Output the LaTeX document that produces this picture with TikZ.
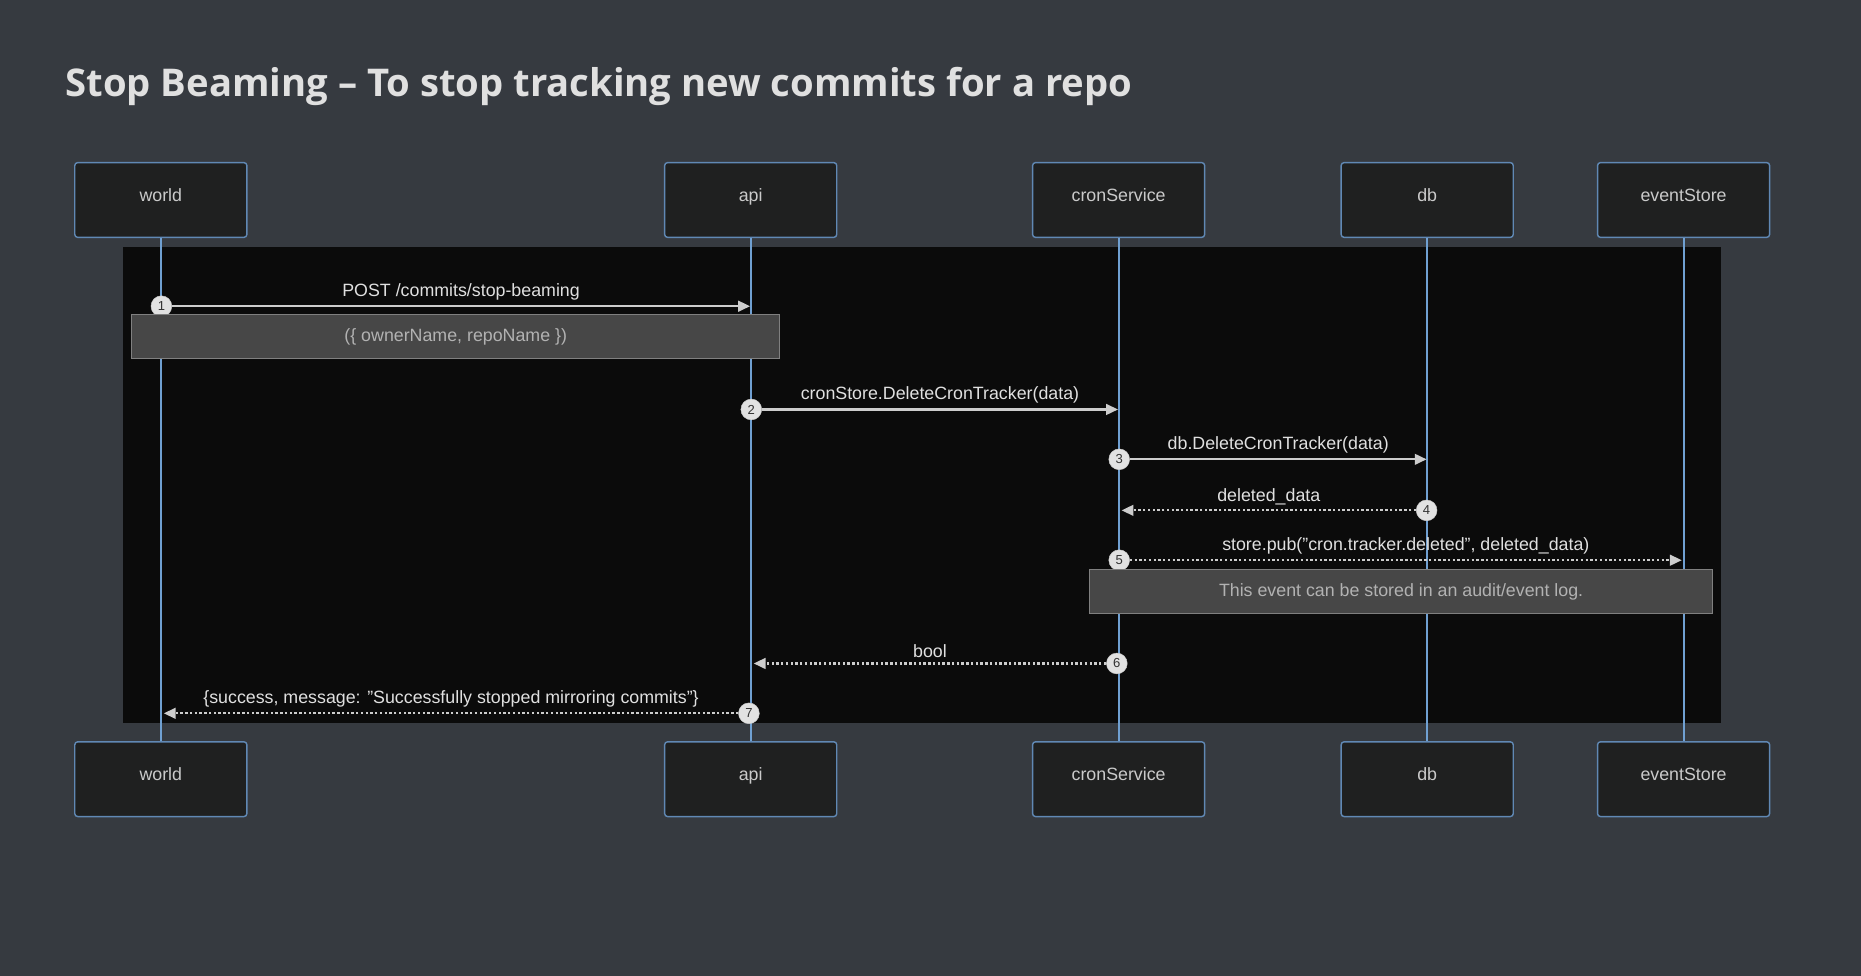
\documentclass[tikz,border=0pt]{standalone}
\usepackage{fontspec}
\setmainfont{Liberation Sans}
\newfontfamily\titlefont{Open Sans}
\usetikzlibrary{arrows.meta,positioning}
\definecolor{pagebg}{RGB}{54,58,64}
\definecolor{panelbg}{RGB}{11,11,11}
\definecolor{actorfill}{RGB}{31,32,32}
\definecolor{actorline}{RGB}{96,136,180}
\definecolor{lifeblue}{RGB}{112,160,210}
\definecolor{msgline}{RGB}{205,205,205}
\definecolor{labeltext}{RGB}{224,224,224}
\definecolor{notefill}{RGB}{71,71,71}
\definecolor{notetext}{RGB}{178,178,178}
\definecolor{dotfill}{RGB}{226,226,226}
\tikzset{
	actorbox/.style={draw=actorline, fill=actorfill, rounded corners=2.5pt, line width=1.2pt,
		minimum width=145pt, minimum height=63pt, text=labeltext!90!black,
		font=\fontsize{15}{18}\selectfont, text height=11pt, text depth=8pt},
	lifeline/.style={draw=lifeblue, line width=1.6pt},
	msg/.style={draw=msgline, line width=1.8pt, -{Triangle[length=10pt,width=9pt]}},
	reply/.style={msg, dash pattern=on 2pt off 2pt},
	msglabel/.style={text=labeltext, font=\fontsize{15}{18}\selectfont, inner sep=0pt, above=4pt},
	stepdot/.style={circle, fill=dotfill, draw=msgline, inner sep=0pt, minimum size=17.5pt,
		text=black!80, font=\fontsize{11}{12}\selectfont},
	notebox/.style={fill=notefill, draw=black!50, line width=0.6pt, minimum height=37pt,
		text=notetext, font=\fontsize{15}{18}\selectfont}
}
\newcommand{\qt}{\char"22\relax}
\begin{document}
\begin{tikzpicture}[x=1pt, y=-1pt]
		\fill[pagebg] (0,0) rectangle (1568,822);
		\useasboundingbox (0,0) rectangle (1568,822);
		\node[anchor=base west, inner sep=0pt, text=labeltext, font=\titlefont\bfseries\fontsize{32.2}{38}\selectfont] (title) at (55,81) {Stop Beaming – To stop tracking new commits for a repo};
		\fill[panelbg] (104,208) rectangle (1450,609);

		\node[actorbox] (world-top) at (135.5,168.5) {world};
		\node[actorbox] (api-top) at (632.5,168.5) {api};
		\node[actorbox] (cron-top) at (942.5,168.5) {cronService};
		\node[actorbox] (db-top) at (1202.5,168.5) {db};
		\node[actorbox] (store-top) at (1418.5,168.5) {eventStore};
		\node[actorbox] (world-bot) at (135.5,656.5) {world};
		\node[actorbox] (api-bot) at (632.5,656.5) {api};
		\node[actorbox] (cron-bot) at (942.5,656.5) {cronService};
		\node[actorbox] (db-bot) at (1202.5,656.5) {db};
		\node[actorbox] (store-bot) at (1418.5,656.5) {eventStore};

		\draw[lifeline] (world-top) -- (world-bot);
		\draw[lifeline] (api-top) -- (api-bot);
		\draw[lifeline] (cron-top) -- (cron-bot);
		\draw[lifeline] (db-top) -- (db-bot);
		\draw[lifeline] (store-top) -- (store-bot);

		\node[stepdot] (n1) at (136,258) {1};
		\coordinate (t1) at (632,258);
		\draw[msg] (n1) -- (t1) node[midway, msglabel] {POST /commits/stop-beaming};
		\node[notebox, minimum width=546pt] (note1) at (384,283.5) {(\{ ownerName, repoName \})};

		\node[stepdot] (n2) at (633,345) {2};
		\coordinate (t2) at (942,345);
		\draw[msg] (n2) -- (t2) node[midway, msglabel] {cronStore.DeleteCronTracker(data)};

		\node[stepdot] (n3) at (943,387) {3};
		\coordinate (t3) at (1202,387);
		\draw[msg] (n3) -- (t3) node[midway, msglabel] {db.DeleteCronTracker(data)};

		\node[stepdot] (n4) at (1202,430) {4};
		\coordinate (t4) at (945,430);
		\draw[reply] (n4) -- (t4) node[midway, msglabel] {deleted\_data};

		\node[stepdot] (n5) at (943,472) {5};
		\coordinate (t5) at (1417,472);
		\draw[reply] (n5) -- (t5) node[midway, msglabel] {store.pub(\qt cron.tracker.deleted\qt, deleted\_data)};
		\node[notebox, minimum width=525pt] (note2) at (1180.5,498.5) {This event can be stored in an audit/event log.};

		\node[stepdot] (n6) at (941,559) {6};
		\coordinate (t6) at (635,559);
		\draw[reply] (n6) -- (t6) node[midway, msglabel] {bool};

		\node[stepdot] (n7) at (631,601) {7};
		\coordinate (t7) at (138,601);
		\draw[reply] (n7) -- (t7) node[midway, msglabel] {\{success, message: \qt Successfully stopped mirroring commits\qt\}};
\end{tikzpicture}
\end{document}
